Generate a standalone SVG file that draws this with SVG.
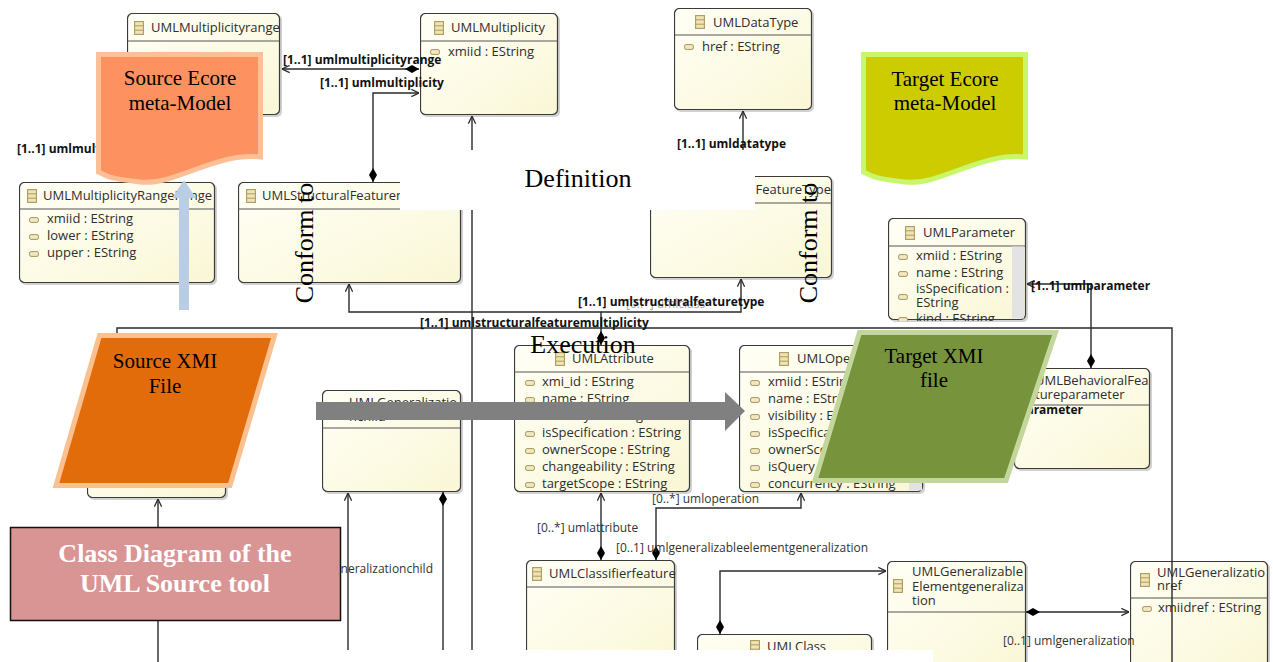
<svg xmlns="http://www.w3.org/2000/svg" xmlns:xlink="http://www.w3.org/1999/xlink" width="1273" height="662" viewBox="0 0 1273 662">
  <style>
    .box { fill: url(#boxFill); stroke: #3a3a3a; stroke-width: 1.2; }
    .shadow { fill: #9a9a9a; opacity: 0.45; }
    .div { stroke: #555; stroke-width: 1; }
    .ct { font-family: "Open Sans", "Noto Sans", sans-serif; font-size: 13px; fill: #2e2e2e; }
    .lb { font-family: "Open Sans", "Noto Sans", sans-serif; font-size: 12px; font-weight: bold; fill: #111; }
    .lr { font-family: "Open Sans", "Noto Sans", sans-serif; font-size: 12px; fill: #333; }
    .faint { fill: #a8a8a8; }
    .scroll { fill: #e3e3e3; }
    .wire { fill: none; stroke: #2a2a2a; stroke-width: 1.4; }
    .assoc { marker-end: url(#openArrow); }
    .comp { marker-start: url(#diamond); }
    .serif { font-family: "Liberation Serif", "Times New Roman", serif; fill: #000; }
    .doc-src { fill: #fd9160; stroke: #fcbf96; stroke-width: 5; }
    .doc-tgt { fill: #cccc00; stroke: #c8f86a; stroke-width: 5; }
    .xmi-src { fill: #e36c0a; stroke: #fac090; stroke-width: 5; }
    .xmi-tgt { fill: #77933c; stroke: #c3d69b; stroke-width: 5; }
  </style>
  <defs>
    <linearGradient id="boxFill" x1="0" y1="0" x2="1" y2="1">
      <stop offset="0" stop-color="#fffff6"/>
      <stop offset="1" stop-color="#faf7d6"/>
    </linearGradient>
    <symbol id="icoClass" viewBox="0 0 10 14">
      <rect x="0.6" y="0.6" width="8.8" height="12.8" fill="#efe4b4" stroke="#ae9a5e" stroke-width="1.1"/>
      <line x1="0.6" y1="4.8" x2="9.4" y2="4.8" stroke="#ae9a5e" stroke-width="1"/>
      <line x1="0.6" y1="9.2" x2="9.4" y2="9.2" stroke="#ae9a5e" stroke-width="1"/>
    </symbol>
    <symbol id="icoAttr" viewBox="0 0 10 6">
      <rect x="0.6" y="0.6" width="8.8" height="4.8" rx="1.5" fill="#f1e8c2" stroke="#a8955c" stroke-width="1"/>
    </symbol>
    <marker id="openArrow" viewBox="0 0 10 10" refX="9.5" refY="5" markerWidth="9" markerHeight="9" markerUnits="userSpaceOnUse" orient="auto">
      <path d="M1,1 L9.5,5 L1,9" fill="none" stroke="#2a2a2a" stroke-width="1.4"/>
    </marker>
    <marker id="diamond" viewBox="0 0 14 10" refX="0" refY="5" markerWidth="14" markerHeight="10" markerUnits="userSpaceOnUse" orient="auto">
      <path d="M0,5 L7,1 L14,5 L7,9 Z" fill="#000"/>
    </marker>
  </defs>

  <rect width="1273" height="662" fill="#ffffff"/>

  <!-- class nodes -->
  <g id="uml-multiplicityrange">
    <rect class="shadow" x="129" y="15" width="153" height="102" rx="5"/>
    <svg x="127" y="13" width="154" height="103" overflow="hidden">
      <rect class="box" x="0.5" y="0.5" width="152" height="101" rx="5"/>
      <line class="div" x1="0.5" y1="28" x2="152.5" y2="28"/>
      <use href="#icoClass" x="7" y="8" width="10" height="14"/>
      <text class="ct" x="24" y="19">UMLMultiplicityrange</text>
    </svg>
  </g>

  <g id="uml-multiplicity">
    <rect class="shadow" x="422" y="15" width="138" height="102" rx="5"/>
    <svg x="420" y="13" width="139" height="103" overflow="hidden">
      <rect class="box" x="0.5" y="0.5" width="137" height="101" rx="5"/>
      <line class="div" x1="0.5" y1="28" x2="137.5" y2="28"/>
      <use href="#icoClass" x="14" y="8" width="10" height="14"/>
      <text class="ct" x="31" y="19">UMLMultiplicity</text>
      <use href="#icoAttr" x="10" y="36" width="10" height="6"/>
      <text class="ct" x="28" y="43">xmiid : EString</text>
    </svg>
  </g>

  <g id="uml-datatype">
    <rect class="shadow" x="676" y="10" width="138" height="102" rx="5"/>
    <svg x="674" y="8" width="139" height="103" overflow="hidden">
      <rect class="box" x="0.5" y="0.5" width="137" height="101" rx="5"/>
      <line class="div" x1="0.5" y1="27" x2="137.5" y2="27"/>
      <use href="#icoClass" x="21" y="7" width="10" height="14"/>
      <text class="ct" x="39" y="19">UMLDataType</text>
      <use href="#icoAttr" x="10" y="36" width="10" height="6"/>
      <text class="ct" x="28" y="43">href : EString</text>
    </svg>
  </g>

  <g id="uml-multiplicityrangerange">
    <rect class="shadow" x="21" y="184" width="196" height="101" rx="5"/>
    <svg x="19" y="182" width="197" height="102" overflow="hidden">
      <rect class="box" x="0.5" y="0.5" width="195" height="100" rx="5"/>
      <line class="div" x1="0.5" y1="27" x2="195.5" y2="27"/>
      <use href="#icoClass" x="8" y="7" width="10" height="14"/>
      <text class="ct" x="24" y="18">UMLMultiplicityRangeRange</text>
      <use href="#icoAttr" x="10" y="35" width="10" height="6"/>
      <text class="ct" x="28" y="41">xmiid : EString</text>
      <use href="#icoAttr" x="10" y="52" width="10" height="6"/>
      <text class="ct" x="28" y="58">lower : EString</text>
      <use href="#icoAttr" x="10" y="69" width="10" height="6"/>
      <text class="ct" x="28" y="75">upper : EString</text>
    </svg>
  </g>

  <g id="uml-structuralfeaturemultiplicity">
    <rect class="shadow" x="240" y="184" width="223" height="101" rx="5"/>
    <svg x="238" y="182" width="224" height="102" overflow="hidden">
      <rect class="box" x="0.5" y="0.5" width="222" height="100" rx="5"/>
      <line class="div" x1="0.5" y1="27" x2="222.5" y2="27"/>
      <use href="#icoClass" x="8" y="7" width="10" height="14"/>
      <text class="ct" x="24" y="18">UMLStructuralFeaturemultiplicity</text>
    </svg>
  </g>

  <g id="uml-structuralfeaturetype">
    <rect class="shadow" x="652" y="178" width="182" height="102" rx="5"/>
    <svg x="650" y="176" width="183" height="103" overflow="hidden">
      <rect class="box" x="0.5" y="0.5" width="181" height="101" rx="5"/>
      <line class="div" x1="0.5" y1="27" x2="181.5" y2="27"/>
      <use href="#icoClass" x="6" y="7" width="10" height="14"/>
      <text class="ct" x="181" y="18" text-anchor="end">UMLStructuralFeatureType</text>
    </svg>
  </g>

  <g id="uml-parameter">
    <rect class="shadow" x="890" y="220" width="138" height="102" rx="5"/>
    <svg x="888" y="218" width="139" height="103" overflow="hidden">
      <rect class="box" x="0.5" y="0.5" width="137" height="101" rx="5"/>
      <line class="div" x1="0.5" y1="28" x2="137.5" y2="28"/>
      <use href="#icoClass" x="17" y="8" width="10" height="14"/>
      <text class="ct" x="35" y="19">UMLParameter</text>
      <use href="#icoAttr" x="10" y="36" width="10" height="6"/>
      <text class="ct" x="28" y="42">xmiid : EString</text>
      <use href="#icoAttr" x="10" y="53" width="10" height="6"/>
      <text class="ct" x="28" y="59">name : EString</text>
      <use href="#icoAttr" x="10" y="76" width="10" height="6"/>
      <text class="ct" x="28" y="75">isSpecification :</text>
      <text class="ct" x="28" y="89">EString</text>
      <use href="#icoAttr" x="10" y="99" width="10" height="6"/>
      <text class="ct" x="28" y="105">kind : EString</text>
      <rect class="scroll" x="124" y="28.5" width="12" height="72"/>
    </svg>
  </g>

  <g id="uml-attribute">
    <rect class="shadow" x="516" y="347" width="176" height="147" rx="5"/>
    <svg x="514" y="345" width="177" height="148" overflow="hidden">
      <rect class="box" x="0.5" y="0.5" width="175" height="146" rx="5"/>
      <line class="div" x1="0.5" y1="27" x2="175.5" y2="27"/>
      <use href="#icoClass" x="41" y="7" width="10" height="14"/>
      <text class="ct" x="58" y="18">UMLAttribute</text>
      <use href="#icoAttr" x="11" y="35" width="10" height="6"/>
      <text class="ct" x="28" y="41">xmi_id : EString</text>
      <use href="#icoAttr" x="11" y="52" width="10" height="6"/>
      <text class="ct" x="28" y="58">name : EString</text>
      <use href="#icoAttr" x="11" y="69" width="10" height="6"/>
      <text class="ct" x="28" y="75">visibility : EString</text>
      <use href="#icoAttr" x="11" y="86" width="10" height="6"/>
      <text class="ct" x="28" y="92">isSpecification : EString</text>
      <use href="#icoAttr" x="11" y="103" width="10" height="6"/>
      <text class="ct" x="28" y="109">ownerScope : EString</text>
      <use href="#icoAttr" x="11" y="120" width="10" height="6"/>
      <text class="ct" x="28" y="126">changeability : EString</text>
      <use href="#icoAttr" x="11" y="137" width="10" height="6"/>
      <text class="ct" x="28" y="143">targetScope : EString</text>
    </svg>
  </g>

  <g id="uml-operation">
    <rect class="shadow" x="741" y="347" width="184" height="147" rx="5"/>
    <svg x="739" y="345" width="185" height="148" overflow="hidden">
      <rect class="box" x="0.5" y="0.5" width="183" height="146" rx="5"/>
      <line class="div" x1="0.5" y1="27" x2="183.5" y2="27"/>
      <use href="#icoClass" x="40" y="7" width="10" height="14"/>
      <text class="ct" x="58" y="18">UMLOperation</text>
      <use href="#icoAttr" x="11" y="35" width="10" height="6"/>
      <text class="ct" x="29" y="41">xmiid : EString</text>
      <use href="#icoAttr" x="11" y="52" width="10" height="6"/>
      <text class="ct" x="29" y="58">name : EString</text>
      <use href="#icoAttr" x="11" y="69" width="10" height="6"/>
      <text class="ct" x="29" y="75">visibility : EString</text>
      <use href="#icoAttr" x="11" y="86" width="10" height="6"/>
      <text class="ct" x="29" y="92">isSpecification : EString</text>
      <use href="#icoAttr" x="11" y="103" width="10" height="6"/>
      <text class="ct" x="29" y="109">ownerScope : EString</text>
      <use href="#icoAttr" x="11" y="120" width="10" height="6"/>
      <text class="ct" x="29" y="126">isQuery : EString</text>
      <use href="#icoAttr" x="11" y="137" width="10" height="6"/>
      <text class="ct" x="29" y="143">concurrency : EString</text>
      <rect class="scroll" x="170" y="27.5" width="13" height="118"/>
    </svg>
  </g>

  <g id="uml-behavioralfeatureparameter">
    <rect class="shadow" x="1016" y="370" width="136" height="101" rx="5"/>
    <svg x="1014" y="368" width="137" height="102" overflow="hidden">
      <rect class="box" x="0.5" y="0.5" width="135" height="100" rx="5"/>
      <line class="div" x1="0.5" y1="37" x2="135.5" y2="37"/>
      <use href="#icoClass" x="6" y="12" width="10" height="14"/>
      <text class="ct" x="21" y="17">UMLBehavioralFea</text>
      <text class="ct" x="21" y="31">tureparameter</text>
    </svg>
  </g>

  <g id="uml-generalizationchild">
    <rect class="shadow" x="324" y="392" width="139" height="102" rx="5"/>
    <svg x="322" y="390" width="140" height="103" overflow="hidden">
      <rect class="box" x="0.5" y="0.5" width="138" height="101" rx="5"/>
      <line class="div" x1="0.5" y1="38" x2="138.5" y2="38"/>
      <use href="#icoClass" x="10" y="12" width="10" height="14"/>
      <text class="ct" x="27" y="17">UMLGeneralizatio</text>
      <text class="ct" x="27" y="31">nchild</text>
    </svg>
  </g>

  <g id="uml-hidden-class">
    <rect class="shadow" x="89" y="398" width="139" height="102" rx="5"/>
    <svg x="87" y="396" width="140" height="103" overflow="hidden">
      <rect class="box" x="0.5" y="0.5" width="138" height="101" rx="5"/>
      <line class="div" x1="0.5" y1="28" x2="138.5" y2="28"/>
    </svg>
  </g>

  <g id="uml-classifierfeature">
    <rect class="shadow" x="528" y="562" width="149" height="110" rx="5"/>
    <svg x="526" y="560" width="150" height="111" overflow="hidden">
      <rect class="box" x="0.5" y="0.5" width="148" height="109" rx="5"/>
      <line class="div" x1="0.5" y1="27" x2="148.5" y2="27"/>
      <use href="#icoClass" x="6" y="7" width="10" height="14"/>
      <text class="ct" x="23" y="18">UMLClassifierfeature</text>
    </svg>
  </g>

  <g id="uml-class">
    <rect class="shadow" x="699" y="636" width="175" height="40" rx="5"/>
    <svg x="697" y="634" width="176" height="41" overflow="hidden">
      <rect class="box" x="0.5" y="0.5" width="174" height="39" rx="5"/>
      <use href="#icoClass" x="53" y="6" width="10" height="14"/>
      <text class="ct" x="70" y="17">UMLClass</text>
    </svg>
  </g>

  <g id="uml-generalizableelementgeneralization">
    <rect class="shadow" x="889" y="563" width="139" height="110" rx="5"/>
    <svg x="887" y="561" width="140" height="111" overflow="hidden">
      <rect class="box" x="0.5" y="0.5" width="138" height="109" rx="5"/>
      <line class="div" x1="0.5" y1="51" x2="138.5" y2="51"/>
      <use href="#icoClass" x="6" y="18" width="10" height="14"/>
      <text class="ct" x="25" y="15">UMLGeneralizable</text>
      <text class="ct" x="25" y="30">Elementgeneraliza</text>
      <text class="ct" x="25" y="44">tion</text>
    </svg>
  </g>

  <g id="uml-generalizationref">
    <rect class="shadow" x="1132" y="563" width="138" height="110" rx="5"/>
    <svg x="1130" y="561" width="139" height="111" overflow="hidden">
      <rect class="box" x="0.5" y="0.5" width="137" height="109" rx="5"/>
      <line class="div" x1="0.5" y1="37" x2="137.5" y2="37"/>
      <use href="#icoClass" x="10" y="12" width="10" height="14"/>
      <text class="ct" x="27" y="16">UMLGeneralizatio</text>
      <text class="ct" x="27" y="29">nref</text>
      <use href="#icoAttr" x="12" y="45" width="10" height="6"/>
      <text class="ct" x="28" y="51">xmiidref : EString</text>
    </svg>
  </g>

  <!-- associations -->
  <g id="connectors">
    <path class="wire comp assoc" d="M419,69 H282"/>
    <path class="wire comp assoc" d="M373,182 V93 H419"/>
    <path class="wire assoc" d="M472,662 V116"/>
    <path class="wire assoc" d="M743,160 V111"/>
    <path class="wire comp assoc" d="M601,345 V312 H349 V284"/>
    <path class="wire assoc" d="M601,312 H741 V279"/>
    <path class="wire" d="M117,396 V328 H1172 V662"/>
    <path class="wire comp assoc" d="M1091,368 V284 H1027"/>
    <path class="wire assoc" d="M158,662 V499"/>
    <path class="wire assoc" d="M348,650 V493"/>
    <path class="wire comp" d="M443,492 V650"/>
    <path class="wire comp assoc" d="M601,560 V493"/>
    <path class="wire comp assoc" d="M656,560 V508 H801 V493"/>
    <path class="wire comp assoc" d="M720,634 V571 H886"/>
    <path class="wire comp assoc" d="M1026,612 H1129"/>
  </g>

  <!-- association labels -->
  <g id="labels">
    <text class="lb" x="283" y="64">[1..1] umlmultiplicityrange</text>
    <text class="lb" x="320" y="87">[1..1] umlmultiplicity</text>
    <text class="lb" x="17" y="153">[1..1] umlmultiplicityrange</text>
    <text class="lb" x="677" y="148">[1..1] umldatatype</text>
    <text class="lr faint" x="626" y="308">[0..*] umlclass</text>
    <text class="lb" x="578" y="306">[1..1] umlstructuralfeaturetype</text>
    <text class="lb" x="420" y="327">[1..1] umlstructuralfeaturemultiplicity</text>
    <text class="lb" x="1031" y="290">[1..1] umlparameter</text>
    <text class="lb" x="1083" y="414" text-anchor="end">[0..*] umlparameter</text>
    <text class="lr" x="652" y="503">[0..*] umloperation</text>
    <text class="lr" x="537" y="532">[0..*] umlattribute</text>
    <text class="lr" x="616" y="552">[0..1] umlgeneralizableelementgeneralization</text>
    <text class="lr" x="1003" y="645">[0..1] umlgeneralization</text>
    <text class="lr" x="433" y="573" text-anchor="end">[0..*] umlgeneralizationchild</text>
  </g>

  <!-- blank strips -->
  <rect x="400" y="150" width="355" height="60" fill="#ffffff"/>
  <rect x="200" y="650" width="733" height="12" fill="#ffffff"/>

  <!-- meta-model documents -->
  <g id="source-ecore">
    <path class="doc-src" d="M98.5,54.5 H260.5 V157 C215,152 175,186 140,182 S108,176 98.5,172 Z"/>
    <text class="serif" x="180" y="85" font-size="21" text-anchor="middle">Source Ecore</text>
    <text class="serif" x="180" y="110" font-size="21" text-anchor="middle">meta-Model</text>
  </g>
  <g id="target-ecore">
    <path class="doc-tgt" d="M863.5,54.5 H1025.5 V157 C980,152 940,186 905,182 S873,176 863.5,172 Z"/>
    <text class="serif" x="945" y="86" font-size="21" text-anchor="middle">Target Ecore</text>
    <text class="serif" x="945" y="110" font-size="21" text-anchor="middle">meta-Model</text>
  </g>

  <!-- conformance arrow -->
  <polygon id="conform-arrow" points="179,310 179,198 172,198 184,180 196,198 189,198 189,310" fill="#b9cde5"/>

  <text class="serif" font-size="26" text-anchor="middle" transform="translate(313,243) rotate(-90)">Conform to</text>
  <text class="serif" font-size="26" text-anchor="middle" transform="translate(817,243) rotate(-90)">Conform to</text>
  <text class="serif" x="578" y="187" font-size="26" text-anchor="middle">Definition</text>
  <text class="serif" x="583" y="353" font-size="26" text-anchor="middle">Execution</text>

  <!-- transformation arrow -->
  <polygon id="exec-arrow" points="316,402 725,402 725,392 745,411 725,431 725,420 316,420" fill="#808080"/>

  <!-- model files -->
  <g id="source-xmi">
    <polygon class="xmi-src" points="99.5,335.5 274.5,335.5 230,485.5 56,485.5"/>
    <text class="serif" x="165" y="368" font-size="21" text-anchor="middle">Source XMI</text>
    <text class="serif" x="165" y="393" font-size="21" text-anchor="middle">File</text>
  </g>
  <g id="target-xmi">
    <polygon class="xmi-tgt" points="859.5,332.5 1055.5,332.5 1006,480.5 815,480.5"/>
    <text class="serif" x="934" y="363" font-size="21" text-anchor="middle">Target XMI</text>
    <text class="serif" x="934" y="387" font-size="21" text-anchor="middle">file</text>
  </g>

  <g id="caption-box">
    <rect x="10.5" y="527.5" width="330" height="93" fill="#d99594" stroke="#111" stroke-width="1.5"/>
    <text class="serif" x="175" y="562" font-size="26" font-weight="bold" text-anchor="middle" fill="#ffffff" style="fill:#ffffff">Class Diagram of the</text>
    <text class="serif" x="175" y="592" font-size="26" font-weight="bold" text-anchor="middle" style="fill:#ffffff">UML Source tool</text>
  </g>
</svg>
